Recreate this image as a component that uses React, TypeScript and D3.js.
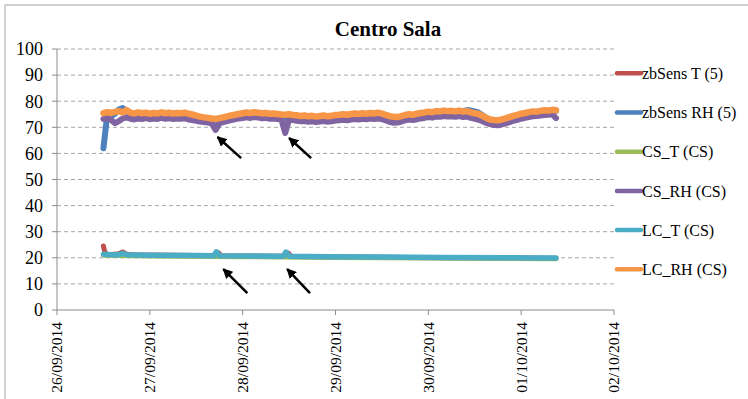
import React from 'react';
import * as d3 from 'd3';

const TITLE = 'Centro Sala';
const X_TICK_DATES = ['2014-09-26', '2014-09-27', '2014-09-28', '2014-09-29', '2014-09-30', '2014-10-01', '2014-10-02'];
const Y_TICKS = [0, 10, 20, 30, 40, 50, 60, 70, 80, 90, 100];
const SERIES_NAMES = ['zbSens T (5)', 'zbSens RH (5)', 'CS_T (CS)', 'CS_RH (CS)', 'LC_T (CS)', 'LC_RH (CS)'];
const SERIES_COLORS = ['#C0504D', '#4F81BD', '#9BBB59', '#8064A2', '#4BACC6', '#F79646'];

// hours since 26/09/2014 00:00 for the hourly RH readings
const RH_HOURS = d3.range(12, 130);

const LC_RH = [
  75.4, 75.8, 75.5, 75.9, 76.2, 75.7, 76.6, 75.6, 75.3, 75.7,
  75.4, 75.6, 75.2, 75.5, 75.3, 75.7, 75.4, 75.6, 75.3, 75.5,
  75.4, 75.6, 75.2, 74.9, 74.5, 74.1, 73.8, 73.6, 73.4, 73.2,
  73.5, 73.8, 74.2, 74.5, 74.8, 75.1, 75.4, 75.7, 75.5, 75.8,
  75.6, 75.4, 75.5, 75.2, 75.3, 75.1, 74.9, 74.8, 75.0, 74.7,
  74.6, 74.3, 74.5, 74.2, 74.4, 74.1, 74.3, 74.5, 74.2, 74.4,
  74.7, 74.8, 75.0, 74.8, 75.1, 75.3, 75.1, 75.4, 75.2, 75.5,
  75.3, 75.6, 75.2, 74.8, 74.3, 74.0, 73.9, 74.3, 74.7, 75.0,
  74.8, 75.2, 75.5, 75.7, 76.0, 75.8, 76.2, 76.1, 76.4, 76.2,
  76.3, 76.1, 76.4, 76.0, 76.2, 75.7, 75.4, 75.1, 74.4, 73.6,
  73.0, 72.8, 72.7, 73.0, 73.4, 73.9, 74.4, 74.8, 75.2, 75.5,
  75.8, 76.1, 76.0, 76.3, 76.5, 76.4, 76.7, 76.5,
];

const CS_RH = [
  73.2, 73.5, 72.8, 71.6, 72.4, 73.4, 73.8, 73.3, 73.0, 73.4,
  73.2, 73.5, 73.1, 73.4, 73.2, 73.6, 73.3, 73.5, 73.2, 73.4,
  73.3, 73.5, 73.0, 72.8, 72.5, 72.2, 72.0, 71.8, 71.5, 69.0,
  71.6, 72.0, 72.4, 72.8, 73.1, 73.4, 73.6, 73.8, 73.6, 73.9,
  73.7, 73.5, 73.6, 73.3, 73.4, 73.2, 73.0, 67.8, 73.0, 72.8,
  72.5, 72.3, 72.4, 72.1, 72.3, 72.0, 72.2, 72.4, 72.1, 72.3,
  72.6, 72.7, 72.9, 72.7, 73.0, 73.2, 73.0, 73.3, 73.1, 73.4,
  73.2, 73.4, 73.1, 72.6, 72.1, 71.7, 71.8, 72.2, 72.7, 73.0,
  72.8, 73.1, 73.4, 73.6, 73.9, 73.7, 74.1, 74.0, 74.3, 74.1,
  74.2, 74.0, 74.3, 73.9, 74.1, 73.6, 73.3, 72.9, 72.3, 71.7,
  71.2, 70.9, 70.8, 71.1, 71.5, 72.0, 72.5, 72.9, 73.3, 73.6,
  73.9, 74.2, 74.3, 74.5, 74.7, 74.8, 75.0, 73.5,
];

const ZB_RH = [
  62.0, 74.8, 74.2, 75.2, 76.8, 77.4, 76.2, 75.2, 75.0, 75.4,
  75.2, 75.4, 75.0, 75.3, 75.1, 75.5, 75.2, 75.4, 75.1, 75.3,
  75.2, 75.4, 75.0, 74.7, 74.3, 73.9, 73.6, 73.4, 73.2, 71.0,
  73.3, 73.6, 74.0, 74.3, 74.6, 74.9, 75.2, 75.5, 75.3, 75.6,
  75.4, 75.2, 75.3, 75.0, 75.1, 74.9, 74.7, 73.4, 74.8, 74.5,
  74.4, 74.1, 74.3, 74.0, 74.2, 73.9, 74.1, 74.3, 74.0, 74.2,
  74.5, 74.6, 74.8, 74.6, 74.9, 75.1, 74.9, 75.2, 75.0, 75.3,
  75.1, 75.4, 75.0, 74.6, 74.1, 73.8, 73.7, 74.1, 74.5, 74.8,
  74.6, 75.0, 75.3, 75.5, 75.8, 75.6, 76.0, 75.9, 76.2, 76.0,
  76.1, 75.9, 76.2, 76.2, 76.6, 76.4, 76.1, 75.6, 74.6, 73.6,
  72.8, 72.6, 72.5, 72.8, 73.2, 73.7, 74.2, 74.6, 75.0, 75.3,
  75.6, 75.9, 75.8, 76.1, 76.3, 76.2, 76.5, 76.3,
];

const ZB_T_HOURS = [12, 12.3, 12.8, 14, 16, 17, 18, 20, 30, 41, 41.8, 42.5, 44, 59, 59.8, 60.5, 62, 80, 100, 129];
const ZB_T = [24.5, 22.5, 21.4, 21.3, 21.6, 22.2, 21.4, 21.2, 21.0, 20.8, 21.9, 20.8, 20.7, 20.6, 21.8, 20.6, 20.5, 20.2, 20.0, 19.8];

const LC_T_HOURS = [12, 14, 16, 17, 18, 24, 36, 40.5, 41.2, 42, 50, 58.5, 59.2, 60, 70, 85, 100, 115, 129];
const LC_T = [21.4, 21.2, 21.2, 21.7, 21.2, 21.0, 20.9, 20.8, 22.3, 20.8, 20.7, 20.6, 22.2, 20.6, 20.4, 20.3, 20.1, 20.0, 19.9];

const CS_T_HOURS = [12, 24, 48, 72, 96, 129];
const CS_T = [21.0, 20.7, 20.4, 20.1, 19.9, 19.6];

// annotation arrows: [tailHour, tailValue, tipHour, tipValue]
const ARROWS = [
  [47.6, 58.2, 41.5, 66.3],
  [65.7, 58.2, 60.0, 65.9],
  [49.2, 6.5, 43.0, 15.7],
  [65.4, 6.5, 59.5, 15.7],
];

const START = new Date(2014, 8, 26, 0, 0, 0);
const hourToDate = (h: number) => new Date(START.getTime() + h * 3600 * 1000);

const FONT = "'Liberation Serif', 'Times New Roman', 'DejaVu Serif', serif";

export default function App() {
  const W = 748;
  const H = 399;
  const left = 57;
  const right = 614;
  const top = 49;
  const bottom = 310;

  const tickDates = X_TICK_DATES.map((s) => {
    const [yy, m, d] = s.split('-').map(Number);
    return new Date(yy, m - 1, d);
  });
  const x = d3.scaleTime().domain([tickDates[0], tickDates[tickDates.length - 1]]).range([left, right]);
  const y = d3.scaleLinear().domain([0, 100]).range([bottom, top]);
  const fmt = d3.timeFormat('%d/%m/%Y');

  const series = [
    { hours: ZB_T_HOURS, values: ZB_T, w: 5 },
    { hours: RH_HOURS, values: ZB_RH, w: 6 },
    { hours: CS_T_HOURS, values: CS_T, w: 5 },
    { hours: RH_HOURS, values: CS_RH, w: 6 },
    { hours: LC_T_HOURS, values: LC_T, w: 5.5 },
    { hours: RH_HOURS, values: LC_RH, w: 6.5 },
  ];

  const line = d3
    .line<[number, number]>()
    .x((d) => x(hourToDate(d[0])))
    .y((d) => y(d[1]));

  const legendY0 = 73.3;
  const legendStep = 39.2;
  const ts = { fontFamily: FONT };

  return (
    <svg width={W} height={H} style={{ position: 'absolute', left: 0, top: 0, background: '#fff', fontFamily: FONT }}>
      <defs>
        <marker id="ah" viewBox="0 0 10 10" refX="9" refY="5" markerWidth="4" markerHeight="4" orient="auto">
          <path d="M0,0 L10,5 L0,10 z" fill="#000" />
        </marker>
      </defs>
      <rect x={0} y={0} width={W} height={H} fill="#fff" />
      <rect x={5} y={5} width={W + 20} height={H + 20} fill="none" stroke="#c4c4c4" strokeWidth={1.5} />
      <text x={388} y={36} textAnchor="middle" fontSize={21} fontWeight="bold" fill="#000" style={ts}>
        {TITLE}
      </text>
      {Y_TICKS.filter((t) => t > 0).map((t) => (
        <line key={'g' + t} x1={left} x2={right} y1={y(t)} y2={y(t)} stroke="#a6a6a6" strokeWidth={1} strokeDasharray="4,3" />
      ))}
      <line x1={left} x2={left} y1={top} y2={bottom} stroke="#8c8c8c" strokeWidth={1} />
      <line x1={left} x2={right} y1={bottom} y2={bottom} stroke="#8c8c8c" strokeWidth={1} />
      {Y_TICKS.map((t) => (
        <g key={'y' + t}>
          <line x1={left - 5} x2={left} y1={y(t)} y2={y(t)} stroke="#8c8c8c" strokeWidth={1} />
          <text x={43} y={y(t)} dy="0.35em" textAnchor="end" fontSize={18} fill="#000" style={ts}>
            {t}
          </text>
        </g>
      ))}
      {tickDates.map((d, i) => (
        <g key={'x' + i}>
          <line x1={x(d)} x2={x(d)} y1={bottom} y2={bottom + 5} stroke="#8c8c8c" strokeWidth={1} />
          <text
            transform={`translate(${x(d)},${322}) rotate(-90)`}
            dy="0.35em"
            textAnchor="end"
            fontSize={15.5}
            fill="#000"
            style={ts}
          >
            {fmt(d)}
          </text>
        </g>
      ))}
      {series.map((s, i) => (
        <path
          key={'s' + i}
          d={line(s.hours.map((h, j) => [h, s.values[j]] as [number, number])) || ''}
          fill="none"
          stroke={SERIES_COLORS[i]}
          strokeWidth={s.w}
          strokeLinejoin="round"
          strokeLinecap="round"
        />
      ))}
      {ARROWS.map((a, i) => (
        <line
          key={'a' + i}
          x1={x(hourToDate(a[0]))}
          y1={y(a[1])}
          x2={x(hourToDate(a[2]))}
          y2={y(a[3])}
          stroke="#000"
          strokeWidth={2.5}
          markerEnd="url(#ah)"
        />
      ))}
      {SERIES_NAMES.map((n, i) => {
        const ly = legendY0 + i * legendStep;
        return (
          <g key={'l' + i}>
            <line x1={617} x2={641} y1={ly} y2={ly} stroke={SERIES_COLORS[i]} strokeWidth={4.5} strokeLinecap="round" />
            <text x={642} y={ly} dy="0.35em" fontSize={16} fill="#000" style={ts}>
              {n}
            </text>
          </g>
        );
      })}
    </svg>
  );
}
